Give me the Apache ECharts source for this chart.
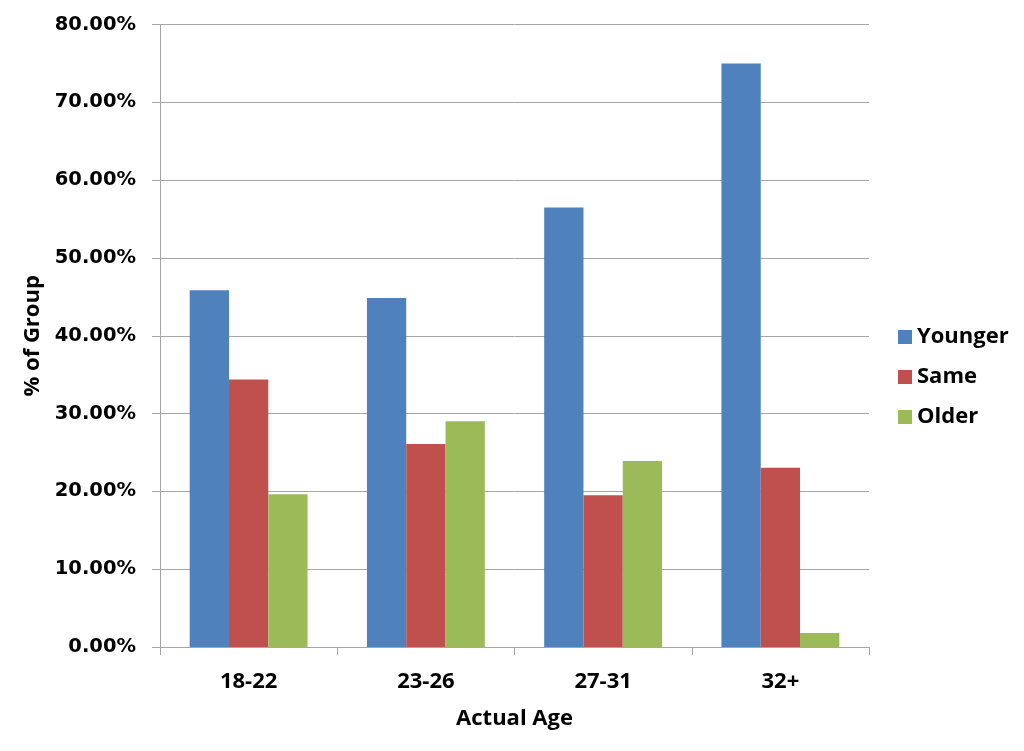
<!DOCTYPE html>
<html>
<head>
<meta charset="utf-8">
<script src="https://cdn.jsdelivr.net/npm/echarts@6/dist/echarts.min.js"></script>
<style>html,body{margin:0;padding:0;background:#fff}#c{width:1024px;height:751px}</style>
</head>
<body>
<div id="c"></div>
<script>
const categories = ['18-22', '23-26', '27-31', '32+'];
const younger = [45.85, 44.86, 56.5, 75.0];
const same = [34.37, 26.09, 19.5, 23.05];
const older = [19.63, 29.01, 23.9, 1.8];
const seriesNames = ['Younger', 'Same', 'Older'];
const colors = ['#4F81BD', '#C0504D', '#9BBB59'];

const chart = echarts.init(document.getElementById('c'));
const labelFont = 'Open Sans';
chart.setOption({
  animation: false,
  backgroundColor: '#ffffff',
  grid: { left: 160, right: 155, top: 24.6, bottom: 104, containLabel: false },
  legend: {
    orient: 'vertical',
    left: 893,
    top: 321,
    itemWidth: 14,
    itemHeight: 14,
    itemGap: 18,
    icon: 'rect',
    textStyle: { fontFamily: labelFont, fontWeight: 'bold', fontSize: 22, color: '#000' },
    data: seriesNames
  },
  xAxis: {
    type: 'category',
    data: categories,
    name: 'Actual Age',
    nameLocation: 'middle',
    nameGap: 61,
    nameTextStyle: { fontFamily: labelFont, fontWeight: 'bold', fontSize: 22, color: '#000' },
    axisLine: { lineStyle: { color: '#a6a6a6', width: 1 } },
    axisTick: { show: true, length: 8, lineStyle: { color: '#a6a6a6' }, alignWithLabel: false },
    axisLabel: { fontFamily: labelFont, fontWeight: 'bold', fontSize: 22, color: '#000', margin: 24 }
  },
  yAxis: {
    type: 'value',
    min: 0,
    max: 80,
    interval: 10,
    name: '% of Group',
    nameLocation: 'middle',
    nameGap: 112,
    nameRotate: 90,
    nameTextStyle: { fontFamily: labelFont, fontWeight: 'bold', fontSize: 22, color: '#000' },
    axisLine: { show: true, lineStyle: { color: '#a6a6a6', width: 1 } },
    axisTick: { show: true, length: 8, lineStyle: { color: '#a6a6a6' } },
    splitLine: { lineStyle: { color: '#a6a6a6', width: 1 } },
    axisLabel: {
      fontFamily: 'DejaVu Sans', fontWeight: 'bold', fontSize: 19.5, color: '#000', margin: 24,
      formatter: v => v.toFixed(2) + '%'
    }
  },
  series: [
    { name: seriesNames[0], type: 'bar', data: younger, itemStyle: { color: colors[0] }, barGap: '0%', barCategoryGap: '33.5%' },
    { name: seriesNames[1], type: 'bar', data: same, itemStyle: { color: colors[1] }, barGap: '0%', barCategoryGap: '33.5%' },
    { name: seriesNames[2], type: 'bar', data: older, itemStyle: { color: colors[2] }, barGap: '0%', barCategoryGap: '33.5%' }
  ]
});
</script>
</body>
</html>
